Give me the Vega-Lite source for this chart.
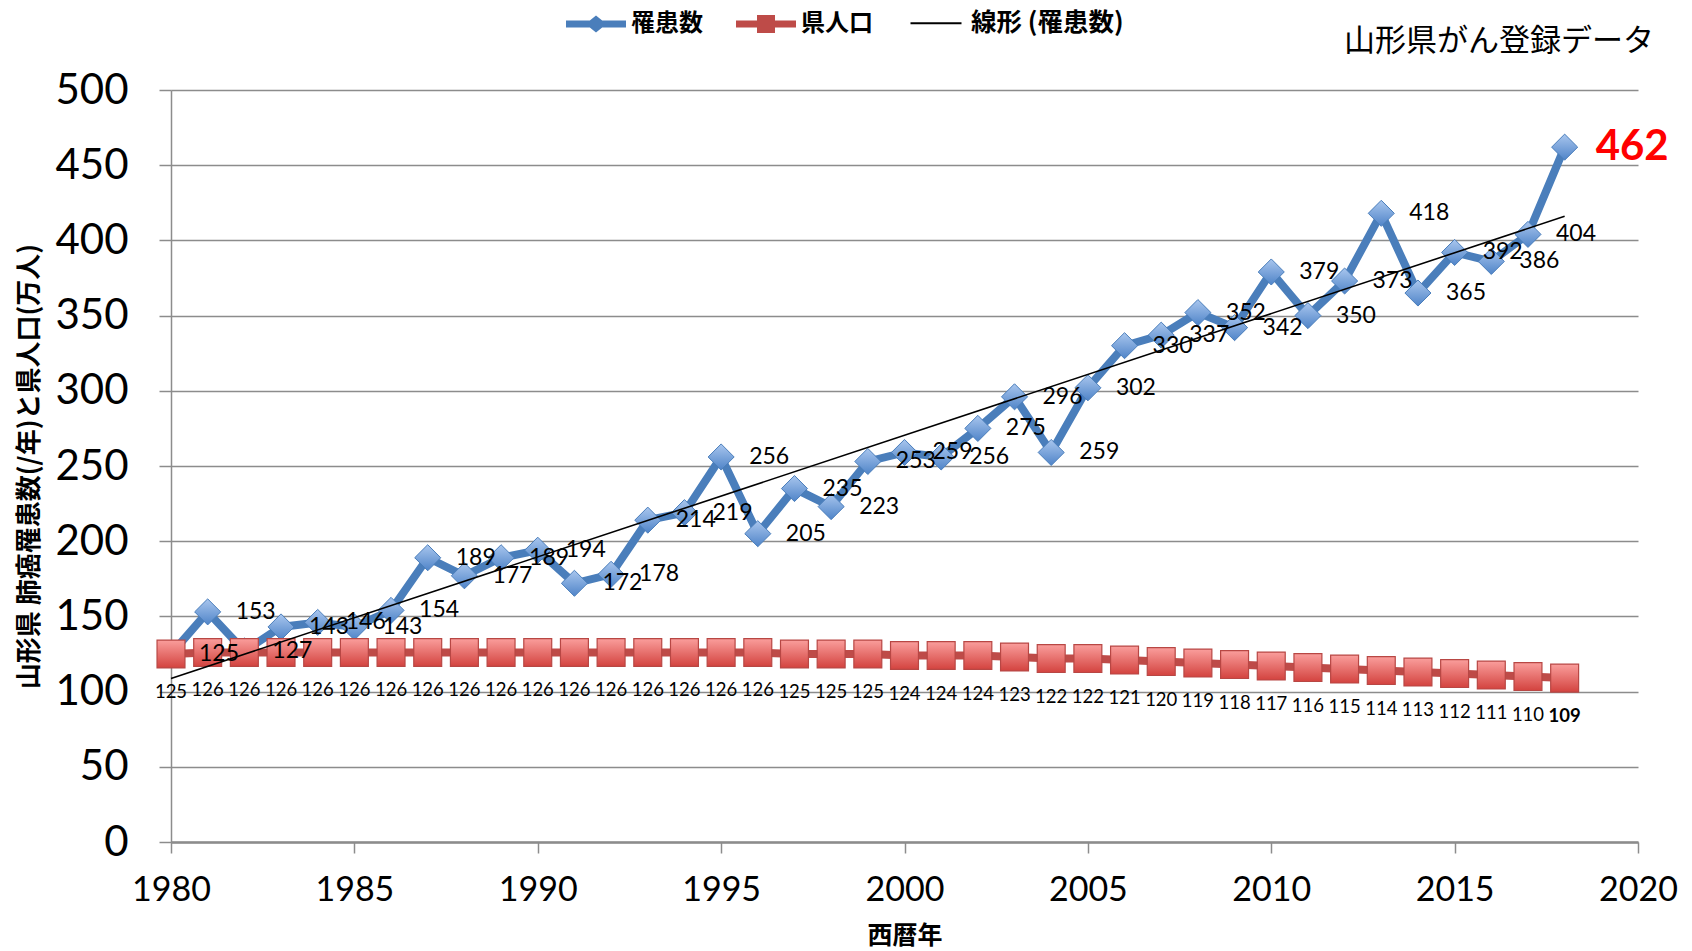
{
  "$schema": "https://vega.github.io/schema/vega-lite/v6.json",
  "width": 1467,
  "height": 752,
  "autosize": {"type": "none"},
  "padding": {"left": 171, "top": 90, "right": 54, "bottom": 109},
  "background": "white",
  "title": {"text": "山形県がん登録データ", "anchor": "end", "frame": "group", "font": "Noto Sans CJK JP", "fontSize": 31, "fontWeight": "normal", "color": "#000000", "dx": 16, "dy": 69},
  "config": {"view": {"stroke": null}},
  "data": {"values": [
    {"year":1980,"series":"罹患数","value":125},{"year":1981,"series":"罹患数","value":153},{"year":1982,"series":"罹患数","value":127},{"year":1983,"series":"罹患数","value":143},{"year":1984,"series":"罹患数","value":146},{"year":1985,"series":"罹患数","value":143},{"year":1986,"series":"罹患数","value":154},{"year":1987,"series":"罹患数","value":189},{"year":1988,"series":"罹患数","value":177},{"year":1989,"series":"罹患数","value":189},{"year":1990,"series":"罹患数","value":194},{"year":1991,"series":"罹患数","value":172},{"year":1992,"series":"罹患数","value":178},{"year":1993,"series":"罹患数","value":214},{"year":1994,"series":"罹患数","value":219},{"year":1995,"series":"罹患数","value":256},{"year":1996,"series":"罹患数","value":205},{"year":1997,"series":"罹患数","value":235},{"year":1998,"series":"罹患数","value":223},{"year":1999,"series":"罹患数","value":253},{"year":2000,"series":"罹患数","value":259},{"year":2001,"series":"罹患数","value":256},{"year":2002,"series":"罹患数","value":275},{"year":2003,"series":"罹患数","value":296},{"year":2004,"series":"罹患数","value":259},{"year":2005,"series":"罹患数","value":302},{"year":2006,"series":"罹患数","value":330},{"year":2007,"series":"罹患数","value":337},{"year":2008,"series":"罹患数","value":352},{"year":2009,"series":"罹患数","value":342},{"year":2010,"series":"罹患数","value":379},{"year":2011,"series":"罹患数","value":350},{"year":2012,"series":"罹患数","value":373},{"year":2013,"series":"罹患数","value":418},{"year":2014,"series":"罹患数","value":365},{"year":2015,"series":"罹患数","value":392},{"year":2016,"series":"罹患数","value":386},{"year":2017,"series":"罹患数","value":404},{"year":2018,"series":"罹患数","value":462},
    {"year":1980,"series":"県人口","value":125},{"year":1981,"series":"県人口","value":126},{"year":1982,"series":"県人口","value":126},{"year":1983,"series":"県人口","value":126},{"year":1984,"series":"県人口","value":126},{"year":1985,"series":"県人口","value":126},{"year":1986,"series":"県人口","value":126},{"year":1987,"series":"県人口","value":126},{"year":1988,"series":"県人口","value":126},{"year":1989,"series":"県人口","value":126},{"year":1990,"series":"県人口","value":126},{"year":1991,"series":"県人口","value":126},{"year":1992,"series":"県人口","value":126},{"year":1993,"series":"県人口","value":126},{"year":1994,"series":"県人口","value":126},{"year":1995,"series":"県人口","value":126},{"year":1996,"series":"県人口","value":126},{"year":1997,"series":"県人口","value":125},{"year":1998,"series":"県人口","value":125},{"year":1999,"series":"県人口","value":125},{"year":2000,"series":"県人口","value":124},{"year":2001,"series":"県人口","value":124},{"year":2002,"series":"県人口","value":124},{"year":2003,"series":"県人口","value":123},{"year":2004,"series":"県人口","value":122},{"year":2005,"series":"県人口","value":122},{"year":2006,"series":"県人口","value":121},{"year":2007,"series":"県人口","value":120},{"year":2008,"series":"県人口","value":119},{"year":2009,"series":"県人口","value":118},{"year":2010,"series":"県人口","value":117},{"year":2011,"series":"県人口","value":116},{"year":2012,"series":"県人口","value":115},{"year":2013,"series":"県人口","value":114},{"year":2014,"series":"県人口","value":113},{"year":2015,"series":"県人口","value":112},{"year":2016,"series":"県人口","value":111},{"year":2017,"series":"県人口","value":110},{"year":2018,"series":"県人口","value":109}
  ]},
  "encoding": {
    "x": {"field": "year", "type": "quantitative", "scale": {"domain": [1980, 2020], "nice": false, "zero": false},
      "axis": {"values": [1980,1985,1990,1995,2000,2005,2010,2015,2020], "format": "d", "grid": false, "domainColor": "#8C8C8C", "domainWidth": 2.5, "tickColor": "#8C8C8C", "tickWidth": 1.5, "tickSize": 11, "labelFont": "Lato", "labelFontSize": 34, "labelColor": "#000000", "labelPadding": 20, "labelFlush": false, "title": "西暦年", "titleFont": "Noto Sans CJK JP", "titleFontSize": 25, "titleFontWeight": "bold", "titleColor": "#000000", "titlePadding": 16}},
    "y": {"field": "value", "type": "quantitative", "scale": {"domain": [0, 500], "nice": false},
      "axis": {"values": [0,50,100,150,200,250,300,350,400,450,500], "grid": true, "gridColor": "#8C8C8C", "gridWidth": 1.5, "domainColor": "#8C8C8C", "domainWidth": 1.5, "tickColor": "#8C8C8C", "tickWidth": 1.5, "tickSize": 12, "labelFont": "Lato", "labelFontSize": 42, "labelColor": "#000000", "labelPadding": 31, "title": "山形県 肺癌罹患数(/年)と県人口(万人)", "titleFont": "Noto Sans CJK JP", "titleFontSize": 26, "titleFontWeight": "bold", "titleColor": "#000000", "titlePadding": 12}}
  },
  "layer": [
    {
      "transform": [{"filter": "datum.series === '罹患数'"}],
      "mark": {"type": "line", "strokeWidth": 8},
      "encoding": {
        "color": {"field": "series", "type": "nominal",
          "scale": {"domain": ["罹患数", "県人口", "線形 (罹患数)"], "range": ["#4A7EBB", "#BE4B48", "#000000"]},
          "legend": {"orient": "none", "legendX": 395, "legendY": -97, "direction": "horizontal", "title": null,
            "symbolSize": 3600, "symbolStrokeWidth": 0, "labelFont": "Noto Sans CJK JP", "labelFontSize": 24, "labelFontWeight": "bold", "labelColor": "#000000", "labelOffset": 5, "columnPadding": 33, "labelLimit": 400,
            "encode": {"symbols": {"update": {
              "shape": {"signal": "datum.value === '罹患数' ? 'M-1,-0.12L1,-0.12L1,0.12L-1,0.12Z M0,-0.28L0.35,0L0,0.28L-0.35,0Z' : datum.value === '県人口' ? 'M-1,-0.12L1,-0.12L1,0.12L-1,0.12Z M-0.3,-0.3L0.3,-0.3L0.3,0.3L-0.3,0.3Z' : 'M-0.85,-0.03L0.85,-0.03L0.85,0.03L-0.85,0.03Z'"},
              "fill": {"scale": "color", "field": "value"},
              "fillOpacity": {"value": 1},
              "strokeWidth": {"value": 0}
            }}, "labels": {"update": {"fontSize": {"signal": "datum.value === '線形 (罹患数)' ? 25.5 : 24"}}}}
          }
        }
      }
    },
    {
      "transform": [{"filter": "datum.series === '罹患数'"}],
      "mark": {"type": "point", "shape": "diamond", "size": 680, "filled": true, "opacity": 1,
        "fill": {"gradient": "linear", "x1": 0, "y1": 0, "x2": 0, "y2": 1, "stops": [{"offset": 0, "color": "#A9C6EE"}, {"offset": 1, "color": "#4F84C8"}]},
        "stroke": "#4A7EBB", "strokeWidth": 1}
    },
    {
      "transform": [{"filter": "datum.series === '県人口'"}],
      "mark": {"type": "line", "strokeWidth": 8},
      "encoding": {"color": {"field": "series", "type": "nominal"}}
    },
    {
      "transform": [{"filter": "datum.series === '県人口'"}],
      "mark": {"type": "point", "shape": "square", "size": 780, "filled": true, "opacity": 1,
        "fill": {"gradient": "linear", "x1": 0, "y1": 0, "x2": 0, "y2": 1, "stops": [{"offset": 0, "color": "#FA9E9C"}, {"offset": 1, "color": "#D3433F"}]},
        "stroke": "#B84744", "strokeWidth": 1.2}
    },
    {
      "transform": [{"filter": "datum.series === '罹患数'"}, {"regression": "value", "on": "year"}],
      "mark": {"type": "line", "color": "#000000", "strokeWidth": 1.6},
      "encoding": {}
    },
    {
      "transform": [{"filter": "datum.series === '罹患数' && datum.year < 2018"}],
      "mark": {"type": "text", "align": "left", "baseline": "middle", "dx": 28, "font": "Lato", "fontSize": 23, "color": "#000000"},
      "encoding": {"text": {"field": "value", "type": "quantitative"}}
    },
    {
      "transform": [{"filter": "datum.series === '罹患数' && datum.year === 2018"}],
      "mark": {"type": "text", "align": "left", "baseline": "middle", "dx": 31, "font": "Lato", "fontSize": 42, "fontWeight": "bold", "color": "#FF0000"},
      "encoding": {"text": {"field": "value", "type": "quantitative"}}
    },
    {
      "transform": [{"filter": "datum.series === '県人口' && datum.year < 2018"}],
      "mark": {"type": "text", "align": "center", "baseline": "middle", "dy": 38, "font": "Lato", "fontSize": 18.5, "color": "#000000"},
      "encoding": {"text": {"field": "value", "type": "quantitative"}}
    },
    {
      "transform": [{"filter": "datum.series === '県人口' && datum.year === 2018"}],
      "mark": {"type": "text", "align": "center", "baseline": "middle", "dy": 38, "font": "Lato", "fontSize": 18.5, "fontWeight": "bold", "color": "#000000"},
      "encoding": {"text": {"field": "value", "type": "quantitative"}}
    }
  ]
}
